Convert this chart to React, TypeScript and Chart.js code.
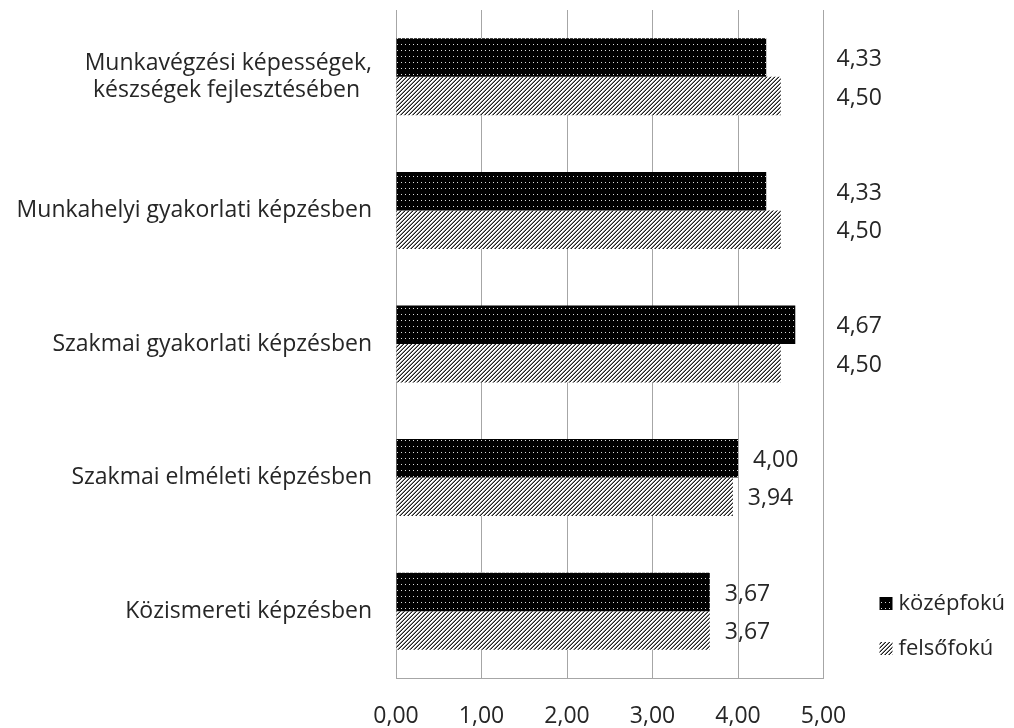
import React, { useEffect, useRef } from "react";
import { Chart, registerables } from "chart.js";

Chart.register(...registerables);

const categories: (string | string[])[] = [
  ["Munkavégzési képességek,", "készségek fejlesztésében  "],
  "Munkahelyi gyakorlati képzésben",
  "Szakmai gyakorlati képzésben",
  "Szakmai elméleti képzésben",
  "Közismereti képzésben",
];
const seriesNames = ["középfokú", "felsőfokú"];
const kozepfoku = [4.33, 4.33, 4.67, 4.0, 3.67];
const felsofoku = [4.5, 4.5, 4.5, 3.94, 3.67];
const xMin = 0;
const xMax = 5;
const xStep = 1;

const FONT = "'Open Sans', 'Noto Sans', sans-serif";
const TEXT = "#262626";
const GRID = "#a6a6a6";

function fmt(v: number) {
  return v.toFixed(2).replace(".", ",");
}

function makeDotPattern(): CanvasPattern | string {
  const c = document.createElement("canvas");
  c.width = 4;
  c.height = 6;
  const g = c.getContext("2d");
  if (!g) return "#000";
  g.fillStyle = "#000";
  g.fillRect(0, 0, 4, 6);
  g.fillStyle = "#dcdcdc";
  g.fillRect(1, 2, 1, 1);
  return g.createPattern(c, "repeat") || "#000";
}

function makeHatchPattern(): CanvasPattern | string {
  const c = document.createElement("canvas");
  c.width = 4;
  c.height = 4;
  const g = c.getContext("2d");
  if (!g) return "#666";
  for (let y = 0; y < 4; y++) {
    for (let x = 0; x < 4; x++) {
      const k = (x + y) % 4;
      g.fillStyle = k === 3 ? "#1e1e1e" : k === 2 ? "#8a8a8a" : "#ffffff";
      g.fillRect(x, y, 1, 1);
    }
  }
  return g.createPattern(c, "repeat") || "#666";
}

const valueLabels = {
  id: "valueLabels",
  afterDatasetsDraw(chart: any) {
    const { ctx, chartArea } = chart;
    ctx.save();
    ctx.font = `23px ${FONT}`;
    ctx.fillStyle = TEXT;
    ctx.textAlign = "left";
    ctx.textBaseline = "middle";
    chart.data.datasets.forEach((ds: any, di: number) => {
      const meta = chart.getDatasetMeta(di);
      meta.data.forEach((bar: any, i: number) => {
        const txt = fmt(ds.data[i]);
        const w = ctx.measureText(txt).width;
        let x = bar.x + 15;
        if (x + w > chartArea.right - 2) x = chartArea.right + 13;
        ctx.fillText(txt, x, bar.y + 2);
      });
    });
    ctx.restore();
  },
};

const customLegend = {
  id: "customLegend",
  afterDraw(chart: any) {
    const { ctx, chartArea } = chart;
    ctx.save();
    ctx.font = `22px ${FONT}`;
    ctx.fillStyle = TEXT;
    ctx.textAlign = "left";
    ctx.textBaseline = "middle";
    const x0 = chartArea.right + 56;
    const ys = [chartArea.bottom - 74, chartArea.bottom - 29];
    chart.data.datasets.forEach((ds: any, di: number) => {
      const y = ys[di];
      ctx.fillStyle = ds.backgroundColor;
      ctx.fillRect(x0, y - 7, 13, 13);
      ctx.fillStyle = TEXT;
      ctx.fillText(ds.label, x0 + 19, y);
    });
    ctx.restore();
  },
};

export default function App() {
  const ref = useRef<HTMLCanvasElement | null>(null);

  useEffect(() => {
    if (!ref.current) return;
    const chart = new Chart(ref.current, {
      type: "bar",
      data: {
        labels: categories,
        datasets: [
          {
            label: seriesNames[0],
            data: kozepfoku,
            backgroundColor: makeDotPattern() as any,
            borderWidth: 0,
            categoryPercentage: 0.576,
            barPercentage: 1,
          },
          {
            label: seriesNames[1],
            data: felsofoku,
            backgroundColor: makeHatchPattern() as any,
            borderWidth: 0,
            categoryPercentage: 0.576,
            barPercentage: 1,
          },
        ],
      },
      options: {
        indexAxis: "y",
        animation: false,
        responsive: true,
        maintainAspectRatio: false,
        layout: { padding: { top: 10, right: 190.5, left: 0, bottom: 0 } },
        plugins: {
          legend: { display: false },
          tooltip: { enabled: false },
        },
        scales: {
          x: {
            min: xMin,
            max: xMax,
            ticks: {
              stepSize: xStep,
              padding: 25,
              color: TEXT,
              font: { family: FONT, size: 23 },
              callback: (v: any) => fmt(Number(v)),
            },
            grid: { color: GRID, lineWidth: 1, drawTicks: false },
            border: { display: true, color: GRID, width: 1 },
            afterFit: (s: any) => {
              s.height = 50;
            },
          },
          y: {
            ticks: {
              padding: 24,
              color: TEXT,
              font: { family: FONT, size: 23, lineHeight: 1.2 },
            },
            grid: { display: false, drawTicks: false },
            border: { display: true, color: GRID, width: 1 },
            afterFit: (s: any) => {
              s.width = 396;
              s.paddingTop = 0;
              s.paddingBottom = 0;
            },
          },
        },
      },
      plugins: [valueLabels, customLegend],
    });
    return () => chart.destroy();
  }, []);

  return (
    <div
      style={{
        position: "fixed",
        left: 0,
        top: 0,
        width: 1014,
        height: 728,
        background: "#fff",
      }}
    >
      <canvas ref={ref} />
    </div>
  );
}
